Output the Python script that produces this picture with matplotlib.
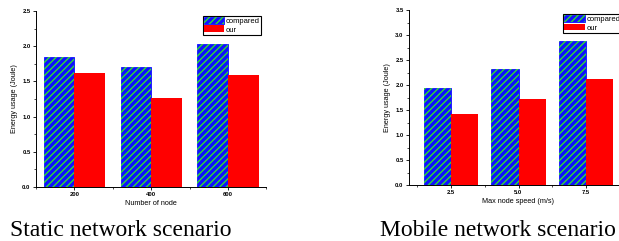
import numpy as np
import matplotlib
matplotlib.use("Agg")
import matplotlib.pyplot as plt
from matplotlib.patches import Patch
from matplotlib.legend_handler import HandlerTuple
from matplotlib.ticker import MultipleLocator

# data
static_nodes = ["200", "400", "600"]
static_compared = [1.84, 1.70, 2.03]
static_our = [1.62, 1.27, 1.59]

mobile_speed = ["2.5", "5.0", "7.5"]
mobile_compared = [1.95, 2.33, 2.89]
mobile_our = [1.43, 1.72, 2.12]

plt.rcParams['font.family'] = ['Liberation Sans', 'DejaVu Sans']
plt.rcParams['hatch.linewidth'] = 1.0

BLUE = "#1010ff"
GREEN = "#2ee02e"
RED = "#ff0000"


def bars(ax, cats, comp, our, ymax, xlab, xlim):
    x = np.arange(1, len(cats) + 1)
    w = 0.4
    ax.bar(x - w / 2, comp, w, color=BLUE, edgecolor=BLUE, linewidth=0.6, zorder=2)
    ax.bar(x - w / 2, comp, w, facecolor="none", edgecolor=GREEN, hatch="/////",
           linewidth=0, zorder=3)
    ax.bar(x + w / 2, our, w, color=RED, edgecolor=RED, linewidth=0, zorder=2)
    ax.set_xlim(*xlim)
    ax.set_ylim(0, ymax)
    ax.set_xticks(x)
    ax.set_xticklabels(cats, fontweight="bold", fontsize=4.2)
    ax.set_xticks(np.arange(0.5, len(cats) + 1, 1.0), minor=True)
    ax.yaxis.set_major_locator(MultipleLocator(0.5))
    ax.yaxis.set_minor_locator(MultipleLocator(0.25))
    ax.yaxis.set_major_formatter(matplotlib.ticker.FormatStrFormatter("%.1f"))
    for t in ax.get_yticklabels():
        t.set_fontweight("bold")
    ax.tick_params(axis="both", which="major", labelsize=4.2, length=2.4, width=0.6, pad=1.5)
    ax.tick_params(axis="both", which="minor", length=1.3, width=0.5)
    ax.spines["top"].set_visible(False)
    ax.spines["right"].set_visible(False)
    ax.spines["left"].set_linewidth(0.7)
    ax.spines["bottom"].set_linewidth(0.7)
    ax.set_ylabel("Energy usage (Joule)", fontsize=5.2, labelpad=3)
    ax.set_xlabel(xlab, fontsize=5.2, labelpad=2)


fig = plt.figure(figsize=(6.19, 2.41), dpi=100)
ax1 = fig.add_axes([36 / 619, 54 / 241, 230.5 / 619, 176 / 241])
ax2 = fig.add_axes([409 / 619, 56 / 241, 219 / 619, 175 / 241])

bars(ax1, static_nodes, static_compared, static_our, 2.5, "Number of node", (0.5, 3.5))
bars(ax2, mobile_speed, mobile_compared, mobile_our, 3.5, "Max node speed (m/s)", (0.38, 3.62))

h_comp = (Patch(facecolor=BLUE, edgecolor=BLUE, linewidth=0.6),
          Patch(facecolor="none", edgecolor=GREEN, hatch="/////", linewidth=0))
h_our = Patch(facecolor=RED, edgecolor=RED, linewidth=0)

for ax, loc, anchor in [(ax1, "upper right", (0.976, 0.972)),
                        (ax2, "upper left", (0.703, 0.977))]:
    leg = ax.legend([h_comp, h_our], ["compared", "our"], loc=loc, bbox_to_anchor=anchor,
                    borderaxespad=0, fontsize=5.5, handlelength=2.7, handleheight=1.0,
                    handletextpad=0.2, labelspacing=0.05, borderpad=0.15,
                    fancybox=False, framealpha=1, edgecolor="black",
                    handler_map={tuple: HandlerTuple(ndivide=1, pad=0)})
    leg.get_frame().set_linewidth(0.8)

fig.text(10 / 619, 5 / 241, "Static network scenario", fontsize=17,
         family=["Liberation Serif", "DejaVu Serif"], va="baseline")
fig.text(380 / 619, 5 / 241, "Mobile network scenario", fontsize=17,
         family=["Liberation Serif", "DejaVu Serif"], va="baseline")

fig.savefig("out.png", dpi=100)
